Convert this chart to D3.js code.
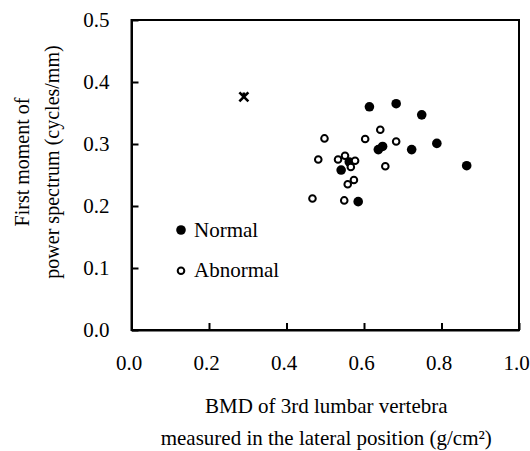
<!DOCTYPE html>
<html>
<head>
<meta charset="utf-8">
<script src="https://cdn.jsdelivr.net/npm/d3@7"></script>
<style>
  body { margin: 0; background: #fff; }
  svg, svg text { font-family: "Liberation Serif", "Times New Roman", serif; fill: #000; }
</style>
</head>
<body>
<svg width="530" height="451"></svg>
<script>
const xTicks = [0, 0.2, 0.4, 0.6, 0.8, 1.0];
const yTicks = [0, 0.1, 0.2, 0.3, 0.4, 0.5];

const normalX = [0.614, 0.683, 0.749, 0.788, 0.723, 0.648, 0.637, 0.865, 0.562, 0.541, 0.585];
const normalY = [0.360, 0.365, 0.347, 0.301, 0.291, 0.296, 0.291, 0.265, 0.271, 0.258, 0.207];

const abnormalX = [0.498, 0.482, 0.533, 0.551, 0.577, 0.566, 0.574, 0.558, 0.467, 0.549, 0.603, 0.642, 0.683, 0.655];
const abnormalY = [0.309, 0.275, 0.275, 0.281, 0.273, 0.263, 0.242, 0.235, 0.212, 0.209, 0.308, 0.323, 0.304, 0.264];

const outlierX = [0.290];
const outlierY = [0.376];

const legendLabels = ["Normal", "Abnormal"];

const fontFamily = "'Liberation Serif', 'Times New Roman', serif";
const fontSize = 21;

const svg = d3.select("svg");
const margin = { top: 20, right: 11, bottom: 121, left: 131.5 };
const innerWidth = +svg.attr("width") - margin.left - margin.right;
const innerHeight = +svg.attr("height") - margin.top - margin.bottom;

const g = svg.append("g").attr("transform", `translate(${margin.left}, ${margin.top})`);

const xScale = d3.scaleLinear().domain([0, 1]).range([0, innerWidth]);
const yScale = d3.scaleLinear().domain([0, 0.5]).range([innerHeight, 0]);

// frame (top / right)
g.append("rect")
  .attr("width", innerWidth)
  .attr("height", innerHeight)
  .attr("fill", "none")
  .attr("stroke", "#000")
  .attr("stroke-width", 2);

const xAxis = d3.axisBottom(xScale).tickValues(xTicks).tickFormat(d3.format(".1f"))
  .tickSizeInner(-7).tickSizeOuter(0).tickPadding(25);
const yAxis = d3.axisLeft(yScale).tickValues(yTicks).tickFormat(d3.format(".1f"))
  .tickSizeInner(-7).tickSizeOuter(0).tickPadding(22);

const gx = g.append("g").attr("transform", `translate(0, ${innerHeight})`).call(xAxis);
const gy = g.append("g").call(yAxis);

[gx, gy].forEach((ax) => {
  ax.attr("font-family", fontFamily).attr("font-size", fontSize);
  ax.select(".domain").attr("stroke-width", 2);
  ax.selectAll(".tick line").attr("stroke-width", 2);
  ax.selectAll(".tick text").attr("font-family", fontFamily).attr("font-size", fontSize);
});
gx.selectAll(".tick text").attr("dx", -3);
gy.selectAll(".tick text").attr("dy", "0.3em");

// normal: filled dots
g.selectAll(".normal")
  .data(normalX.map((x, i) => [x, normalY[i]]))
  .join("circle")
  .attr("cx", (d) => xScale(d[0]))
  .attr("cy", (d) => yScale(d[1]))
  .attr("r", 4.8)
  .attr("fill", "#000");

// abnormal: open circles
g.selectAll(".abnormal")
  .data(abnormalX.map((x, i) => [x, abnormalY[i]]))
  .join("circle")
  .attr("cx", (d) => xScale(d[0]))
  .attr("cy", (d) => yScale(d[1]))
  .attr("r", 3.3)
  .attr("fill", "#fff")
  .attr("stroke", "#000")
  .attr("stroke-width", 2);

// outlier: star marker
const star = "M-4.5,-4.5L4.5,4.5M-4.5,4.5L4.5,-4.5M0,-4.5L0,0";
g.selectAll(".outlier")
  .data(outlierX.map((x, i) => [x, outlierY[i]]))
  .join("path")
  .attr("transform", (d) => `translate(${xScale(d[0])}, ${yScale(d[1])})`)
  .attr("d", star)
  .attr("stroke", "#000")
  .attr("stroke-width", 2.6)
  .attr("fill", "none");

// legend
const legend = g.append("g").attr("transform", "translate(49.5, 210)");
legendLabels.forEach((label, i) => {
  const row = legend.append("g").attr("transform", `translate(0, ${i * 40.7})`);
  if (i === 0) {
    row.append("circle").attr("r", 4.8).attr("fill", "#000");
  } else {
    row.append("circle").attr("r", 3.3).attr("fill", "#fff").attr("stroke", "#000").attr("stroke-width", 2);
  }
  row.append("text").attr("x", 13).attr("y", 6.5)
    .attr("font-family", fontFamily).attr("font-size", fontSize).text(label);
});

// axis titles
const xTitle = svg.append("text")
  .attr("text-anchor", "middle")
  .attr("font-family", fontFamily)
  .attr("font-size", fontSize)
  .attr("transform", `translate(${margin.left + innerWidth / 2 + 1}, 413)`);
xTitle.append("tspan").attr("x", 0).attr("y", 0).text("BMD of 3rd lumbar vertebra");
xTitle.append("tspan").attr("x", 0).attr("y", 31.5).text("measured in the lateral position (g/cm\u00B2)");

const yTitle = svg.append("text")
  .attr("text-anchor", "middle")
  .attr("font-family", fontFamily)
  .attr("font-size", 20)
  .attr("transform", "translate(29, 162) rotate(-90)");
yTitle.append("tspan").attr("x", 0).attr("y", 0).text("First moment of");
yTitle.append("tspan").attr("x", 0).attr("y", 30).text("power spectrum (cycles/mm)");
</script>
</body>
</html>
